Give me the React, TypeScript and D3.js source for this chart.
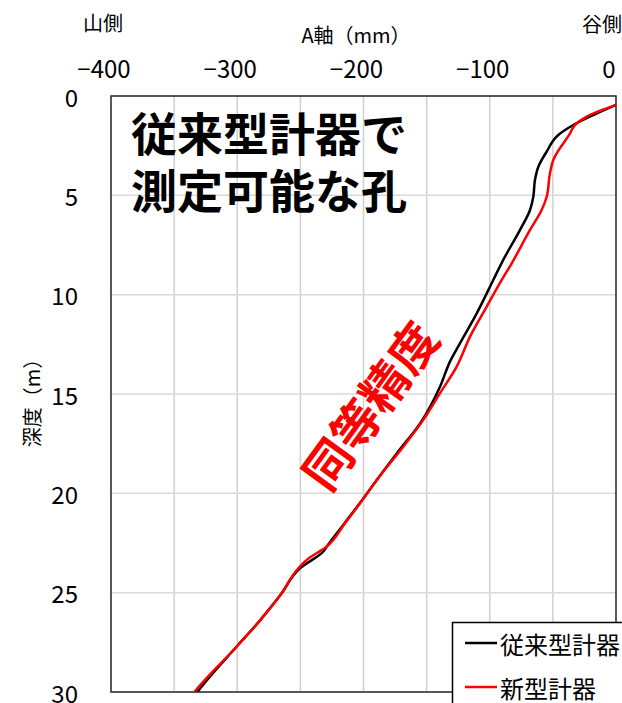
import React from "react";
import * as d3 from "d3";

const W = 622;
const H = 703;
const M = { left: 111, right: 616, top: 96, bottom: 692 };

const xTicks = [-400, -300, -200, -100, 0];
const xGrid = [-350, -300, -250, -200, -150, -100, -50];
const yTicks = [0, 5, 10, 15, 20, 25, 30];

// 従来型計器 (conventional)
const convDepth = [0.45, 0.96, 1.46, 1.96, 2.8, 3.56, 4.23, 5.07, 5.74, 6.74, 8.25, 9.26, 10.94, 12.45, 13.37, 14.63, 16.48, 17.99, 19.33, 20.3, 21.5, 22.68, 22.93, 23.77, 25.11, 26.37, 27.71, 29.93, 30.3];
const convA = [0, -18, -33.8, -45.7, -54.9, -61.5, -64.2, -65.5, -68.1, -76, -89.3, -97.2, -110.3, -123.6, -131.5, -139.4, -155.2, -173.7, -189.5, -200.6, -215, -229.1, -231.8, -250.3, -265.7, -281.6, -300.4, -330.7, -335];

// 新型計器 (new)
const newDepth = [0.45, 1.04, 1.46, 1.88, 3.22, 3.89, 5.07, 5.74, 6.74, 8.42, 9.26, 10.6, 12.11, 13.62, 14.96, 16.3, 17.65, 19.33, 20.3, 21.5, 22.68, 23.35, 23.77, 25.11, 26.37, 27.71, 29.93, 30.3];
const newA = [0, -23.2, -32.5, -36.4, -49.7, -52.3, -54.9, -58.9, -68.1, -82.6, -90.5, -102.4, -115.6, -126.2, -139.4, -152.6, -168.5, -189.5, -200.4, -214.6, -229.1, -245, -251.6, -265.7, -281.6, -300.4, -333, -337.5];

const series = [
  { name: "従来型計器", color: "#000000", depth: convDepth, a: convA },
  { name: "新型計器", color: "#ff0000", depth: newDepth, a: newA },
];

const FONT = "'Noto Sans CJK JP', 'Noto Sans', sans-serif";

export default function App() {
  const x = d3.scaleLinear().domain([-400, 0]).range([M.left, M.right]);
  const y = d3.scaleLinear().domain([0, 30]).range([M.top, M.bottom]);
  const line = d3
    .line<[number, number]>()
    .x((d) => x(d[0]))
    .y((d) => y(d[1]))
    .curve(d3.curveMonotoneY);
  const fmt = (v: number) => (v < 0 ? "−" + Math.abs(v) : String(v));

  return (
    <div style={{ position: "absolute", left: 0, top: 0 }}>
      <svg width={W} height={H} style={{ display: "block", background: "#fff" }}>
        <defs>
          <clipPath id="plot">
            <rect x={M.left} y={M.top} width={M.right - M.left} height={M.bottom - M.top} />
          </clipPath>
        </defs>
        {/* grid */}
        {xGrid.map((v) => (
          <line key={"gx" + v} x1={x(v)} x2={x(v)} y1={M.top} y2={M.bottom} stroke="#d0d0d0" strokeWidth={1.5} />
        ))}
        {yTicks.slice(1, -1).map((v) => (
          <line key={"gy" + v} x1={M.left} x2={M.right} y1={y(v)} y2={y(v)} stroke="#d9d9d9" strokeWidth={1.5} />
        ))}
        <rect x={M.left} y={M.top} width={M.right - M.left} height={M.bottom - M.top} fill="none" stroke="#222" strokeWidth={1.5} />

        {/* annotations */}
        <text x={131} y={151} fontFamily={FONT} fontWeight="bold" fontSize={46} fill="#000">従来型計器で</text>
        <text x={131} y={208} fontFamily={FONT} fontWeight="bold" fontSize={46} fill="#000">測定可能な孔</text>
        <text
          transform="translate(368,404) rotate(-54)"
          textAnchor="middle"
          dominantBaseline="central"
          fontFamily={FONT}
          fontWeight="bold"
          fontSize={48}
          fill="#ff0000"
        >
          同等精度
        </text>

        {/* series */}
        <g clipPath="url(#plot)">
          {series.map((s) => (
            <path
              key={s.name}
              d={line(s.depth.map((d, i) => [s.a[i], d] as [number, number])) || ""}
              fill="none"
              stroke={s.color}
              strokeWidth={2.5}
              strokeLinejoin="round"
            />
          ))}
        </g>

        {/* x axis labels (top) */}
        {xTicks.map((v) => (
          <text key={"tx" + v} x={x(v) - 7} y={78} textAnchor="middle" fontFamily={FONT} fontSize={24} fill="#000">
            {fmt(v)}
          </text>
        ))}
        <text x={356} y={43} textAnchor="middle" fontFamily={FONT} fontSize={20} fill="#000">A軸（mm）</text>
        <text x={83} y={31} fontFamily={FONT} fontSize={20} fill="#000">山側</text>
        <text x={582} y={32} fontFamily={FONT} fontSize={20} fill="#000">谷側</text>

        {/* y axis labels */}
        {yTicks.map((v) => (
          <text key={"ty" + v} x={78} y={y(v)} textAnchor="end" dominantBaseline="central" fontFamily={FONT} fontSize={24} fill="#000">
            {v}
          </text>
        ))}
        <text
          transform="translate(31,398) rotate(-90)"
          textAnchor="middle"
          dominantBaseline="central"
          fontFamily={FONT}
          fontSize={20}
          fill="#000"
        >
          深度（m）
        </text>

        {/* legend */}
        <rect x={452.5} y={622.5} width={200} height={110} fill="#fff" stroke="#000" strokeWidth={1.5} />
        {series.map((s, i) => (
          <g key={"lg" + s.name}>
            <line x1={465} x2={497} y1={643 + i * 44} y2={643 + i * 44} stroke={s.color} strokeWidth={2.5} />
            <text x={500} y={643 + i * 44} dominantBaseline="central" fontFamily={FONT} fontSize={24} fill="#000">
              {s.name}
            </text>
          </g>
        ))}
      </svg>
    </div>
  );
}
